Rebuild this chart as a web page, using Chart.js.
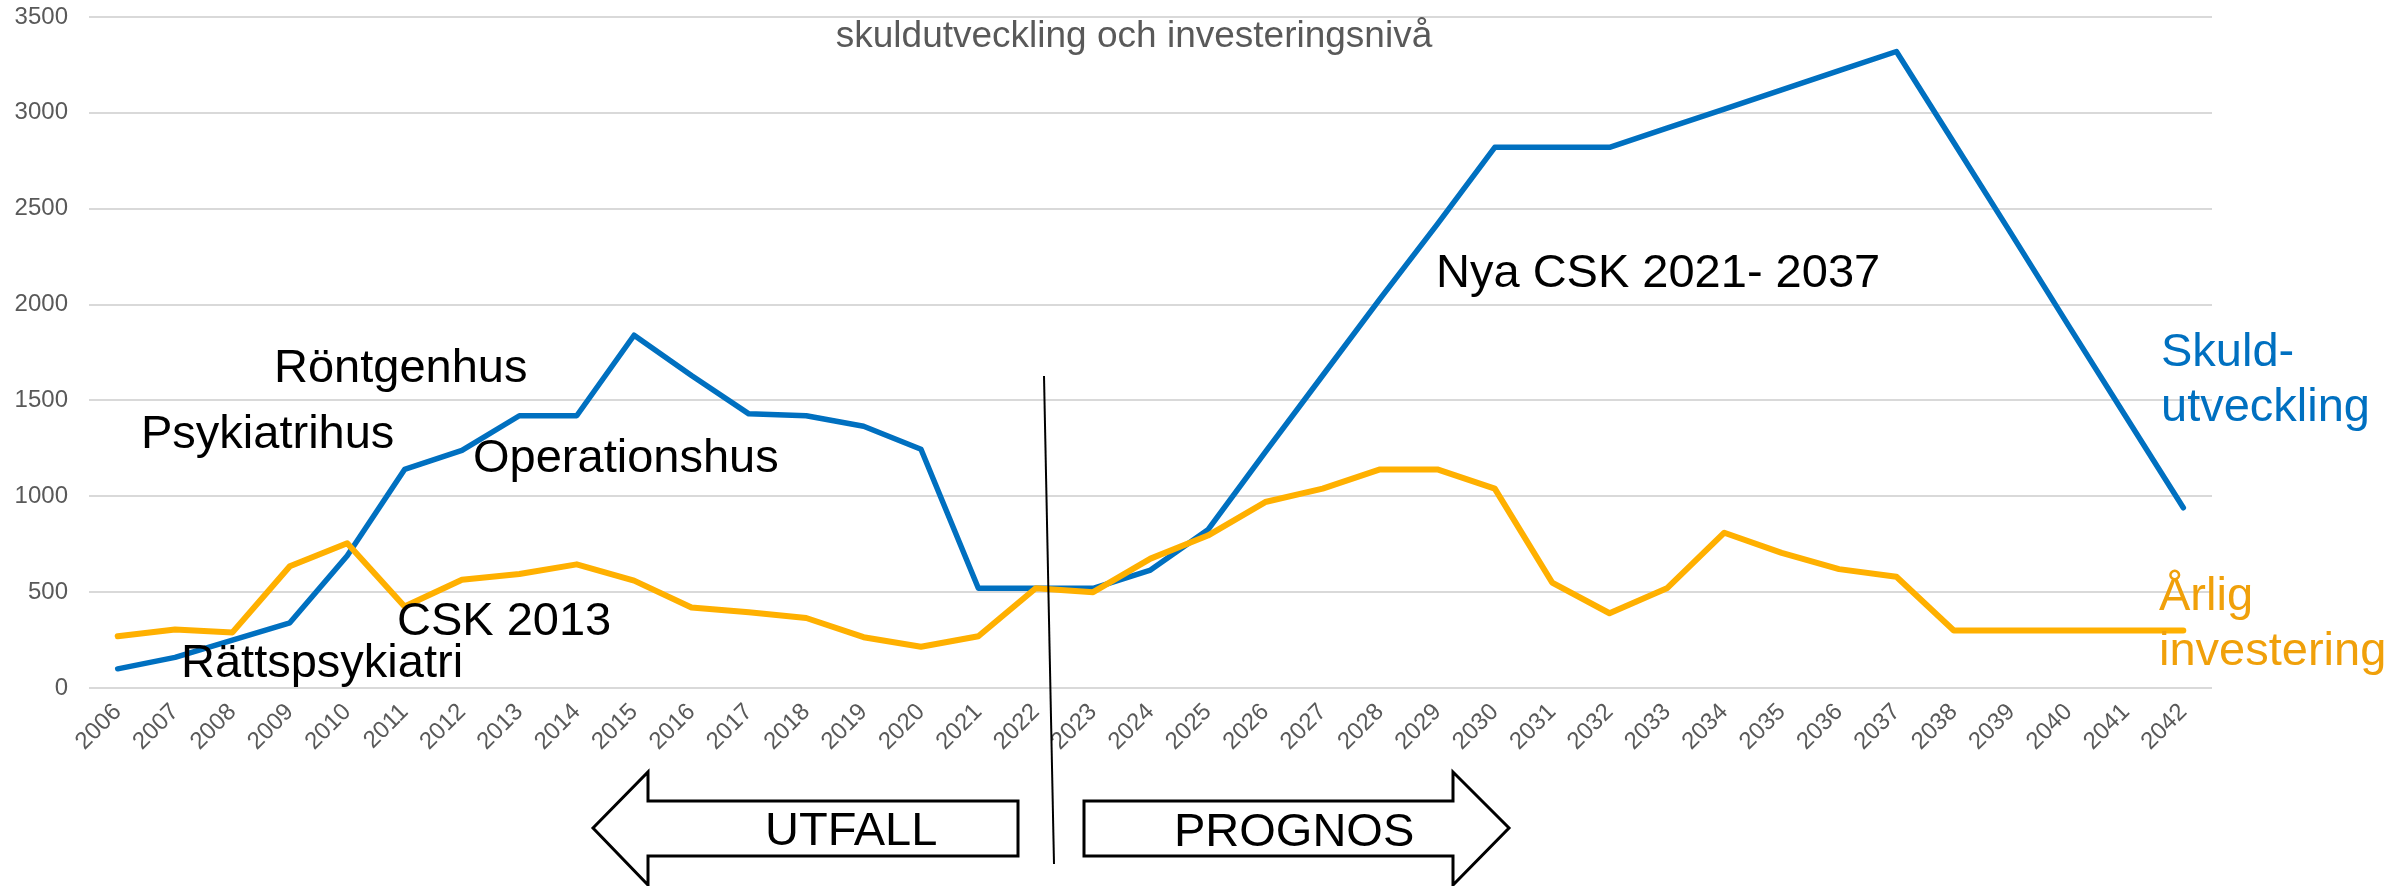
<!DOCTYPE html>
<html>
<head>
<meta charset="utf-8">
<script src="https://cdn.jsdelivr.net/npm/chart.js@4"></script>
<style>
  html, body { margin: 0; padding: 0; background: #fff; }
  canvas { display: block; }
</style>
</head>
<body>
<canvas id="chart" width="2394" height="886"></canvas>
<script>
// ===================== Data =====================
const years = ['2006', '2007', '2008', '2009', '2010', '2011', '2012', '2013', '2014', '2015',
  '2016', '2017', '2018', '2019', '2020', '2021', '2022', '2023', '2024', '2025',
  '2026', '2027', '2028', '2029', '2030', '2031', '2032', '2033', '2034', '2035',
  '2036', '2037', '2038', '2039', '2040', '2041', '2042'];

// Skuldutveckling (blue)
const skuld = [100, 160, 250, 340, 690, 1140, 1240, 1420, 1420, 1840,
  1630, 1430, 1420, 1365, 1245, 520, 520, 520, 615, 825,
  1230, 1630, 2030, 2420, 2820, 2820, 2820, 2920, 3020, 3120,
  3220, 3320, 2845, 2370, 1890, 1415, 940];

// Årlig investering (orange)
const arlig = [270, 305, 290, 635, 755, 425, 565, 595, 645, 560,
  420, 395, 365, 265, 215, 270, 520, 500, 675, 795,
  970, 1040, 1140, 1140, 1040, 550, 390, 520, 810, 705,
  620, 580, 300, 300, 300, 300, 300];

const yTicks = { min: 0, max: 3500, step: 500 };

const BLUE = '#0070C0';
const ORANGE = '#FFB000';
const ORANGE_TEXT = '#F0A00A';
const GREY = '#595959';
const FONT = '"Liberation Sans", Arial, sans-serif';

// ===================== Annotations =====================
const labels = [
  { text: 'Röntgenhus', x: 274, y: 382, color: '#000' },
  { text: 'Psykiatrihus', x: 141, y: 448, color: '#000' },
  { text: 'Operationshus', x: 473, y: 472, color: '#000' },
  { text: 'CSK 2013', x: 397, y: 635, color: '#000' },
  { text: 'Rättspsykiatri', x: 181, y: 677, color: '#000' },
  { text: 'Nya CSK 2021- 2037', x: 1436, y: 287, color: '#000' },
  { text: 'Skuld-', x: 2161, y: 366, color: BLUE },
  { text: 'utveckling', x: 2161, y: 421, color: BLUE },
  { text: 'Årlig', x: 2159, y: 610, color: ORANGE_TEXT },
  { text: 'investering', x: 2159, y: 665, color: ORANGE_TEXT },
  { text: 'UTFALL', x: 765, y: 845, color: '#000' },
  { text: 'PROGNOS', x: 1174, y: 846, color: '#000' },
];

const leftArrow = [[593, 828], [648, 772], [648, 801], [1018, 801], [1018, 856], [648, 856], [648, 885]];
const rightArrow = [[1084, 801], [1453, 801], [1453, 772], [1509, 828], [1453, 885], [1453, 856], [1084, 856]];

const overlay = {
  id: 'overlay',
  afterDraw(chart) {
    const ctx = chart.ctx;
    ctx.save();

    // title inside the plot
    ctx.font = `37px ${FONT}`;
    ctx.fillStyle = GREY;
    ctx.textAlign = 'center';
    ctx.textBaseline = 'alphabetic';
    ctx.fillText('skuldutveckling och investeringsnivå', 1134, 47);

    // split line between utfall / prognos
    ctx.strokeStyle = '#000';
    ctx.lineWidth = 2;
    ctx.beginPath();
    ctx.moveTo(1044, 376);
    ctx.lineTo(1054, 864);
    ctx.stroke();

    // arrows
    [leftArrow, rightArrow].forEach(pts => {
      ctx.beginPath();
      pts.forEach(([x, y], i) => i ? ctx.lineTo(x, y) : ctx.moveTo(x, y));
      ctx.closePath();
      ctx.fillStyle = '#fff';
      ctx.fill();
      ctx.lineWidth = 3;
      ctx.lineJoin = 'miter';
      ctx.stroke();
    });

    ctx.font = `47px ${FONT}`;
    ctx.textAlign = 'left';
    labels.forEach(l => {
      ctx.fillStyle = l.color;
      ctx.fillText(l.text, l.x, l.y);
    });
    ctx.restore();
  }
};

// ===================== Chart =====================
new Chart(document.getElementById('chart'), {
  type: 'line',
  data: {
    labels: years,
    datasets: [
      { label: 'Skuldutveckling', data: skuld, borderColor: BLUE, borderWidth: 5.5, order: 1 },
      { label: 'Årlig investering', data: arlig, borderColor: ORANGE, borderWidth: 6, order: 0 },
    ].map(d => ({ ...d, pointRadius: 0, tension: 0, fill: false, borderCapStyle: 'round', borderJoinStyle: 'round' })),
  },
  options: {
    responsive: false,
    devicePixelRatio: 1,
    animation: false,
    layout: { padding: { top: 17, right: 182, left: 0, bottom: 0 } },
    plugins: { legend: { display: false }, tooltip: { enabled: false }, title: { display: false } },
    scales: {
      x: {
        offset: true,
        grid: { display: false, drawTicks: false },
        border: { display: false },
        ticks: {
          autoSkip: false, maxRotation: 45, minRotation: 45, padding: 10,
          color: GREY, font: { family: FONT, size: 24 },
        },
        afterFit: s => { s.height = 198; s.paddingLeft = 0; s.paddingRight = 0; },
      },
      y: {
        min: yTicks.min, max: yTicks.max,
        grid: { color: '#D9D9D9', lineWidth: 2, drawTicks: false },
        border: { display: false },
        ticks: {
          stepSize: yTicks.step, padding: 21, color: GREY, font: { family: FONT, size: 24 },
          callback: v => String(v),
        },
        afterFit: s => { s.width = 89; s.paddingTop = 0; s.paddingBottom = 0; },
      },
    },
  },
  plugins: [overlay],
});
</script>
</body>
</html>
